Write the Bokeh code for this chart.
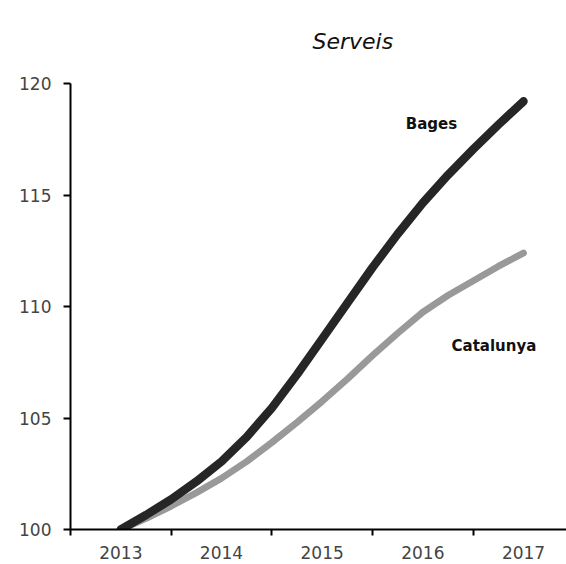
from bokeh.plotting import figure
from bokeh.models import Range1d, FixedTicker, Label
from bokeh.embed import file_html
from bokeh.resources import INLINE

# quarterly observations (index 2013 = 100)
periods = [2013.0, 2013.25, 2013.5, 2013.75, 2014.0, 2014.25, 2014.5, 2014.75,
           2015.0, 2015.25, 2015.5, 2015.75, 2016.0, 2016.25, 2016.5, 2016.75, 2017.0]
bages = [100.0, 100.65, 101.35, 102.15, 103.05, 104.15, 105.45, 106.95,
         108.55, 110.15, 111.75, 113.25, 114.65, 115.9, 117.05, 118.15, 119.2]
catalunya = [100.0, 100.5, 101.05, 101.65, 102.3, 103.05, 103.9, 104.8,
             105.75, 106.75, 107.8, 108.8, 109.75, 110.5, 111.15, 111.8, 112.4]
year_ticks = [2013, 2014, 2015, 2016, 2017]
year_bounds = [2012.5, 2013.5, 2014.5, 2015.5, 2016.5]
y_ticks = [100, 105, 110, 115, 120]
title_text = "Serveis"

FONT = "DejaVu Sans"

p = figure(width=566, height=564, output_backend="svg", toolbar_location=None,
           x_range=Range1d(2012.5, 2017.427), y_range=Range1d(100, 120),
           min_border_left=70, min_border_right=0, min_border_top=82, min_border_bottom=35)
p.outline_line_color = None
p.xgrid.visible = False
p.ygrid.visible = False
p.background_fill_color = "white"
p.border_fill_color = "white"

p.title.text = title_text
p.title.text_font = FONT
p.title.text_font_style = "italic"
p.title.text_font_size = "22px"
p.title.text_color = "#111111"
p.title.align = "left"
p.title.offset = 242
p.title.vertical_align = "top"
p.title.standoff = 56

p.line(periods, catalunya, line_color="#999999", line_width=6.8, line_cap="round", line_join="round")
p.line(periods, bages, line_color="#262626", line_width=8.5, line_cap="round", line_join="round")

xa = p.below[0]
ya = p.left[0]
for ax in (xa, ya):
    ax.axis_line_color = "black"
    ax.axis_line_width = 2
    ax.major_label_text_font = FONT
    ax.major_label_text_font_size = "17px"
    ax.major_label_text_color = "#444444"

xa.ticker = FixedTicker(ticks=year_ticks, minor_ticks=year_bounds)
xa.major_tick_line_color = None
xa.major_tick_out = 0
xa.major_tick_in = 0
xa.minor_tick_line_color = "black"
xa.minor_tick_line_width = 2
xa.minor_tick_out = 6
xa.minor_tick_in = 0
xa.major_label_standoff = 10

ya.ticker = FixedTicker(ticks=y_ticks)
ya.major_tick_line_color = "black"
ya.major_tick_line_width = 2
ya.major_tick_out = 7
ya.major_tick_in = 0
ya.minor_tick_line_color = None
ya.major_label_standoff = 12

p.add_layout(Label(x=2015.83, y=118.17, text="Bages", text_font=FONT, text_font_style="bold",
                   text_font_size="15px", text_color="#111111", text_baseline="middle"))
p.add_layout(Label(x=2016.285, y=108.23, text="Catalunya", text_font=FONT, text_font_style="bold",
                   text_font_size="15px", text_color="#111111", text_baseline="middle"))

open("out.html", "w").write(file_html(p, INLINE))
